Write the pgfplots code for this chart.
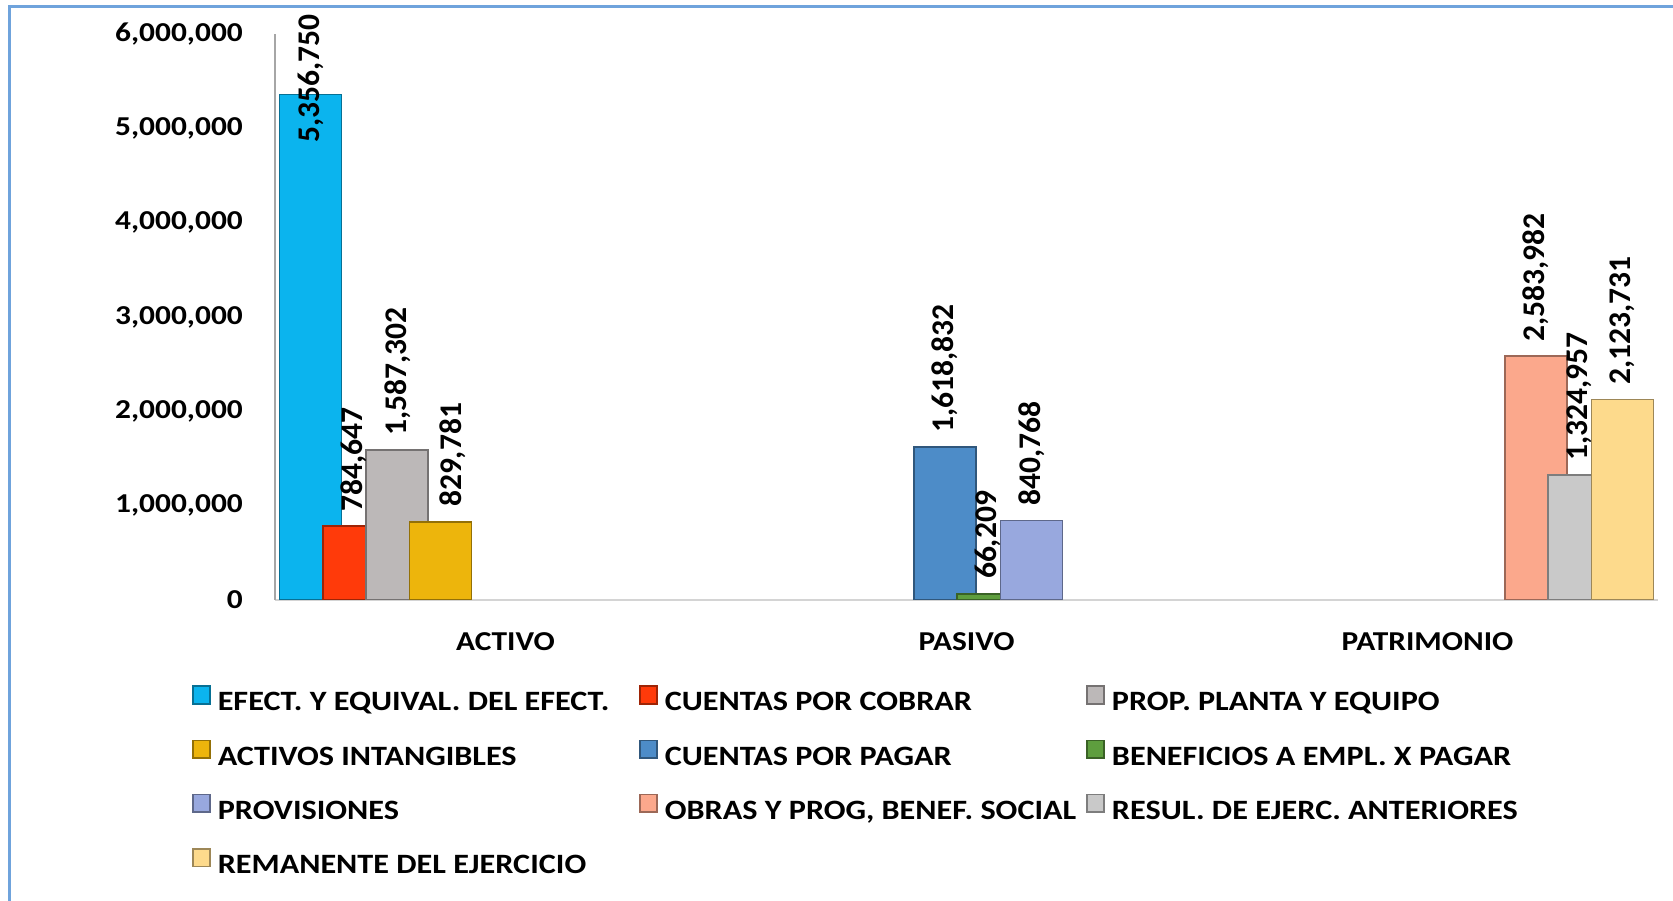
\documentclass[border=0pt]{standalone}
\usepackage{fontspec}
\setmainfont{Carlito}
\newfontfamily\widefont{Carlito}[FakeStretch=1.15]
\newfontfamily\widerfont{Carlito}[FakeStretch=1.15]
\usepackage{pgfplots}
\pgfplotsset{compat=1.18}
\definecolor{frame}{HTML}{6FA3DC}
\definecolor{c1}{HTML}{0BB4EE}
\definecolor{c2}{HTML}{FF3A0A}
\definecolor{c3}{HTML}{BCB8B8}
\definecolor{c4}{HTML}{EDB50C}
\definecolor{c5}{HTML}{4D8CC8}
\definecolor{c6}{HTML}{5E9E3E}
\definecolor{c7}{HTML}{98A8DE}
\definecolor{c8}{HTML}{FBA88C}
\definecolor{c9}{HTML}{C9C9C9}
\definecolor{c10}{HTML}{FDDA8C}
\newcommand{\legtxt}[1]{\makebox[428.5pt][l]{\hspace{7pt}#1}}
\newcommand{\tickfont}{\widefont\bfseries\fontsize{27.3}{33}\selectfont}
\newcommand{\legfont}{\widerfont\bfseries\fontsize{28}{33}\selectfont}
\newcommand{\labfont}{\bfseries\fontsize{31.5}{36}\selectfont}
\tikzset{bev/.style={fill=#1, draw=#1!62!black, line width=1.6pt}}
\begin{document}
\begin{tikzpicture}[x=1pt,y=1pt]
\useasboundingbox (0,0) rectangle (1673,901);
\fill[white] (0,0) rectangle (1673,901);
\draw[frame, line width=2.5pt] (9.6,-20) -- (9.6,894.6) -- (1700,894.6);
\begin{axis}[
  at={(275pt,301pt)}, anchor=south west, scale only axis,
  width=1383pt, height=566pt,
  xmin=-0.5, xmax=2.5, ymin=0, ymax=6000000,
  axis x line*=bottom, axis y line*=left,
  x axis line style={draw=black!17, line width=1.5pt},
  y axis line style={draw=black!35, line width=1.5pt},
  xtick={0,1,2}, xticklabels={ACTIVO,PASIVO,PATRIMONIO},
  ytick={0,1000000,2000000,3000000,4000000,5000000,6000000},
  major tick length=0pt,
  scaled y ticks=false,
  /pgf/number format/assume math mode=true,
  yticklabel={\pgfmathprintnumber[fixed,precision=0,1000 sep={,},assume math mode=true]{\tick}},
  tick label style={font=\tickfont, inner sep=0pt},
  xticklabel style={anchor=north, yshift=-32pt},
  yticklabel style={anchor=east, xshift=-32pt},
  every axis plot/.append style={ybar, bar shift=0pt, bar width=0.1345},
  nodes near coords={\pgfmathprintnumber[fixed,precision=0,1000 sep={,},assume math mode=true]{\pgfplotspointmeta}},
  nodes near coords style={font=\labfont, text=black, rotate=90, anchor=west, inner sep=0pt, xshift=14pt},
  legend columns=3,
  legend cell align=left,
  legend image code/.code={\fill[#1] (0pt,0pt) rectangle (17pt,17.6pt);},
  legend style={at={(axis description cs:-0.0622,-0.147)}, anchor=north west,
    draw=none, fill=none, font=\legfont,
    nodes={inner sep=0pt, text height=20pt, text depth=6pt},
    row sep=22.8pt, column sep=0pt},
]
\addplot[bev=c1, nodes near coords style={xshift=-63pt}] coordinates {(-0.4226,5356750)};
\addlegendentry{\legtxt{EFECT. Y EQUIVAL. DEL EFECT.}}
\addplot[bev=c2] coordinates {(-0.3287,784647)};
\addlegendentry{\legtxt{CUENTAS POR COBRAR}}
\addplot[bev=c3] coordinates {(-0.2348,1587302)};
\addlegendentry{\legtxt{PROP. PLANTA Y EQUIPO}}
\addplot[bev=c4, nodes near coords style={yshift=-12pt}] coordinates {(-0.1409,829781)};
\addlegendentry{\legtxt{ACTIVOS INTANGIBLES}}
\addplot[bev=c5] coordinates {(0.9530,1618832)};
\addlegendentry{\legtxt{CUENTAS POR PAGAR}}
\addplot[bev=c6] coordinates {(1.0470,66209)};
\addlegendentry{\legtxt{BENEFICIOS A EMPL. X PAGAR}}
\addplot[bev=c7] coordinates {(1.1409,840768)};
\addlegendentry{\legtxt{PROVISIONES}}
\addplot[bev=c8] coordinates {(2.2348,2583982)};
\addlegendentry{\legtxt{OBRAS Y PROG, BENEF. SOCIAL}}
\addplot[bev=c9] coordinates {(2.3287,1324957)};
\addlegendentry{\legtxt{RESUL. DE EJERC. ANTERIORES}}
\addplot[bev=c10] coordinates {(2.4226,2123731)};
\addlegendentry{\legtxt{REMANENTE DEL EJERCICIO}}
\end{axis}
\end{tikzpicture}
\end{document}
